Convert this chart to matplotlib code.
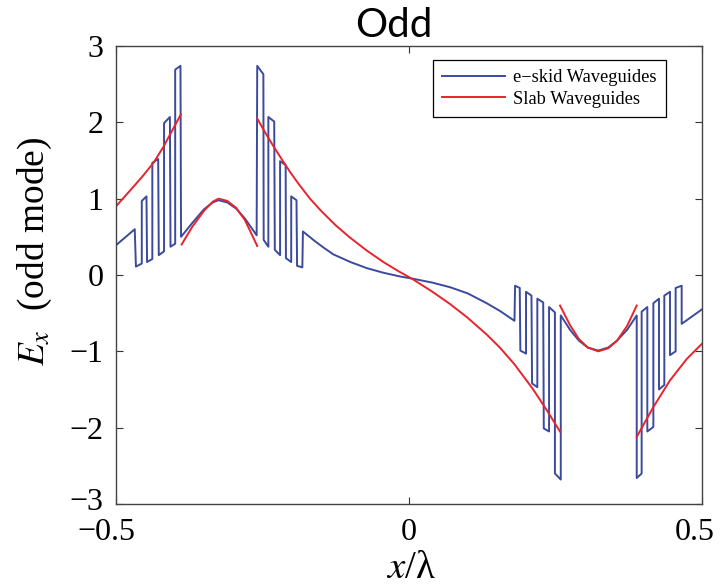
import numpy as np
import matplotlib
matplotlib.use("Agg")
import matplotlib.pyplot as plt
from matplotlib.transforms import ScaledTranslation

nan = np.nan

# e-skid waveguide field (left to right)
blue_x = [-0.500, -0.468, -0.466, -0.456, -0.456, -0.448, -0.447, -0.438, -0.438, -0.428,
          -0.427, -0.418, -0.418, -0.408, -0.407, -0.399, -0.399, -0.390, -0.389,
          -0.370, -0.350, -0.335, -0.325, -0.310, -0.295, -0.280, -0.260,
          -0.259, -0.2485, -0.248, -0.240, -0.240, -0.230, -0.229, -0.220, -0.220, -0.2105,
          -0.210, -0.201, -0.201, -0.192, -0.191, -0.182, -0.181,
          -0.160, -0.145, -0.129, -0.100, -0.072, -0.044, -0.015, 0.0075, 0.040, 0.070,
          0.100, 0.1326, 0.155, 0.180,
          0.181, 0.189, 0.190, 0.1997, 0.1997, 0.209, 0.210, 0.219, 0.219, 0.229, 0.230,
          0.239, 0.239, 0.249, 0.249, 0.259, 0.259,
          0.275, 0.290, 0.305, 0.323, 0.340, 0.355, 0.372, 0.3886,
          0.3886, 0.397, 0.397, 0.4067, 0.4067, 0.417, 0.417, 0.4266, 0.4266, 0.4357,
          0.4357, 0.4454, 0.4454, 0.455, 0.455, 0.4653, 0.4653, 0.500]
blue_y = [0.39, 0.60, 0.11, 0.15, 0.97, 1.03, 0.17, 0.21, 1.47, 1.52,
          0.26, 0.31, 1.99, 2.07, 0.37, 0.41, 2.69, 2.74, 0.50,
          0.68, 0.86, 0.95, 0.98, 0.95, 0.87, 0.74, 0.52,
          2.74, 2.63, 0.46, 0.37, 2.07, 2.01, 0.33, 0.26, 1.49, 1.44,
          0.22, 0.17, 1.03, 0.98, 0.12, 0.10, 0.57,
          0.44, 0.355, 0.27, 0.17, 0.09, 0.03, -0.02, -0.05, -0.10, -0.16,
          -0.24, -0.37, -0.47, -0.60,
          -0.14, -0.17, -0.99, -1.03, -0.22, -0.27, -1.42, -1.47, -0.31, -0.36, -2.01,
          -2.05, -0.42, -0.49, -2.60, -2.68, -0.53,
          -0.72, -0.86, -0.95, -0.99, -0.95, -0.86, -0.72, -0.53,
          -2.66, -2.60, -0.48, -0.42, -2.05, -1.99, -0.37, -0.31, -1.50, -1.44,
          -0.27, -0.22, -1.05, -1.00, -0.17, -0.14, -0.64, -0.45]

# slab waveguide field, pieces split by nan
red_x = [-0.500, -0.4744, -0.455, -0.436, -0.419, -0.405, -0.3896, nan,
         -0.388, -0.370, -0.350, -0.335, -0.325, -0.310, -0.295, -0.280, -0.259, nan,
         -0.259, -0.245, -0.2316, -0.215, -0.203, -0.190, -0.169, -0.150, -0.125, -0.1007,
         -0.072, -0.0438, -0.018, 0.0075, 0.040, 0.070, 0.100, 0.1326, 0.155, 0.180,
         0.212, 0.235, 0.2577, nan,
         0.2577, 0.275, 0.290, 0.305, 0.323, 0.340, 0.355, 0.372, 0.3886, nan,
         0.3886, 0.417, 0.4454, 0.474, 0.500]
red_y = [0.90, 1.12, 1.29, 1.47, 1.68, 1.88, 2.10, nan,
         0.40, 0.63, 0.84, 0.96, 1.00, 0.97, 0.88, 0.72, 0.38, nan,
         2.05, 1.86, 1.69, 1.49, 1.35, 1.21, 1.00, 0.84, 0.65, 0.49,
         0.32, 0.17, 0.05, -0.06, -0.22, -0.38, -0.56, -0.78, -0.95, -1.17,
         -1.50, -1.77, -2.05, nan,
         -0.40, -0.66, -0.84, -0.95, -1.00, -0.96, -0.86, -0.67, -0.40, nan,
         -2.12, -1.73, -1.38, -1.10, -0.90]

x_ticks = [-0.5, 0, 0.5]
y_ticks = [-3, -2, -1, 0, 1, 2, 3]

plt.rcParams['mathtext.fontset'] = 'stix'
serif = 'Liberation Serif'

fig = plt.figure(figsize=(7.22, 5.86), dpi=100)
ax = fig.add_axes([116/722, 1-504/586, 586/722, 458/586])

ax.plot(blue_x, blue_y, color='#3b4a9c', lw=1.4, label='e\u2212skid Waveguides')
ax.plot(red_x, red_y, color='#e8232b', lw=1.4, label='Slab Waveguides')

ax.set_xlim(-0.5, 0.5)
ax.set_ylim(-3, 3)
ax.set_xticks(x_ticks)
ax.set_yticks(y_ticks)
ax.set_xticklabels(['\u22120.5', '0', '0.5'])
ax.set_yticklabels(['\u22123', '\u22122', '\u22121', '0', '1', '2', '3'])
ax.tick_params(direction='in', top=True, right=True, length=5, width=0.8,
               labelsize=23, color='#333333')
ax.tick_params(axis='x', pad=10)
ax.tick_params(axis='y', pad=9)
for lab in ax.get_xticklabels() + ax.get_yticklabels():
    lab.set_family(serif)
# outer labels sit a little inward in the original
xl = ax.get_xticklabels()
xl[0].set_transform(xl[0].get_transform() + ScaledTranslation(-0.10, 0, fig.dpi_scale_trans))
xl[2].set_transform(xl[2].get_transform() + ScaledTranslation(-0.07, 0, fig.dpi_scale_trans))
yl = ax.get_yticklabels()
yl[0].set_transform(yl[0].get_transform() + ScaledTranslation(0, 0.05, fig.dpi_scale_trans))
for s in ax.spines.values():
    s.set_color('#444444')
    s.set_linewidth(1.0)

leg = ax.legend(loc='upper left', bbox_to_anchor=(433/722, 1-60/586),
                bbox_transform=fig.transFigure, prop={'family': serif, 'size': 13.3},
                fancybox=False, edgecolor='black', framealpha=1, handlelength=3.4,
                handletextpad=0.45, borderpad=0.5, labelspacing=0.25, borderaxespad=0)
leg.get_frame().set_linewidth(0.9)

fig.text(394/722, 1-37/586, 'Odd', family='Lato', fontsize=29, ha='center', va='baseline')
fig.text(35/722, 1-251/586, '$E_x$  (odd mode)', family=serif, fontsize=27,
         rotation=90, ha='center', va='center')
fig.text(411/722, 1-568/586, '$x$/\u03bb', family=serif, fontsize=28,
         ha='center', va='center')

fig.savefig('out.png', dpi=100)
